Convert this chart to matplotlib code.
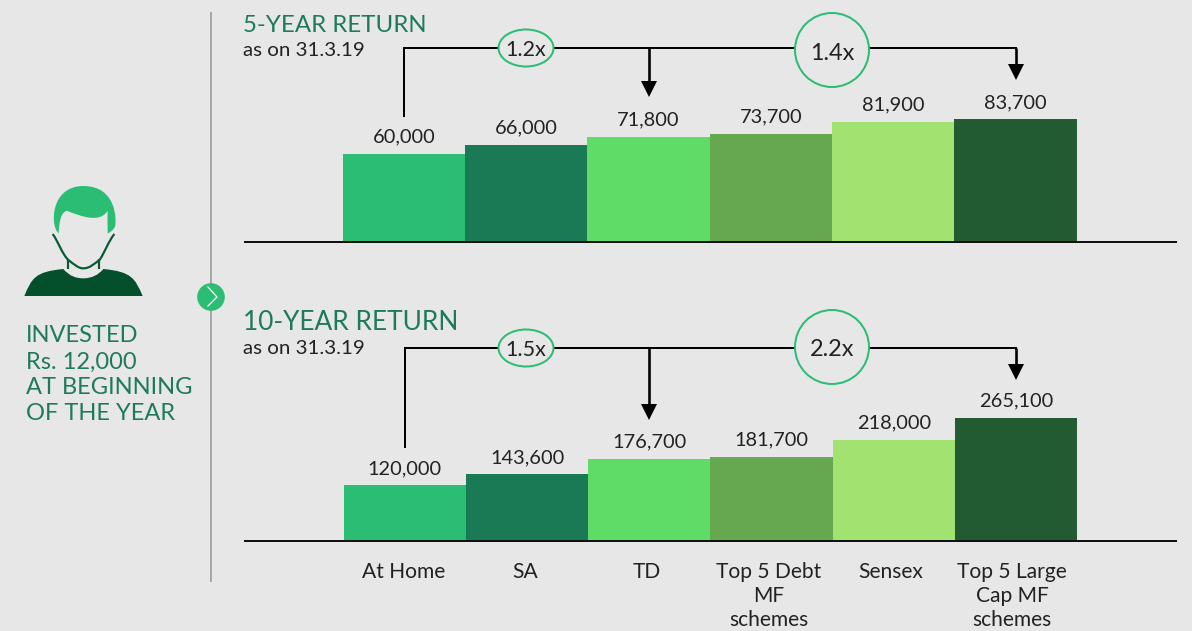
import matplotlib
matplotlib.use("Agg")
import matplotlib.pyplot as plt
from matplotlib.path import Path
from matplotlib.patches import PathPatch, Ellipse, Circle

plt.rcParams['font.family'] = ['Lato', 'DejaVu Sans']

categories = ["At Home", "SA", "TD", "Top 5 Debt\nMF\nschemes", "Sensex", "Top 5 Large\nCap MF\nschemes"]
values_5y = [60000, 66000, 71800, 73700, 81900, 83700]
values_10y = [120000, 143600, 176700, 181700, 218000, 265100]
bar_colors = ["#2bbd73", "#1a7a56", "#5fdc68", "#65a84f", "#a2e270", "#225a32"]
BG = "#e7e7e7"
TITLE = "#1f7a5c"
INK = "#222222"
W, H = 1192, 631
STEP = 122.3


def px(v):
    return v * 0.72


fig = plt.figure(figsize=(W / 100, H / 100), dpi=100, facecolor=BG)


def panel(values, center0, base_y, y_scale):
    left, right = 245, 1176
    ax = fig.add_axes([left / W, 1 - base_y / H, (right - left) / W, base_y / H])
    ax.set_facecolor("none")
    ax.set_xlim((left - center0) / STEP, (right - center0) / STEP)
    ax.set_ylim(0, base_y / y_scale)
    bars = ax.bar(range(len(values)), values, width=1.0, color=bar_colors, linewidth=0)
    ax.bar_label(bars, labels=[f"{v:,}" for v in values], padding=6,
                 fontsize=px(20), color=INK)
    for s in ("top", "left", "right"):
        ax.spines[s].set_visible(False)
    ax.spines["bottom"].set_linewidth(px(2))
    ax.spines["bottom"].set_color("#111111")
    ax.set_yticks([])
    ax.set_xticks([])
    return ax


ax_top = panel(values_5y, 404.0, 242, 88 / 60000)
ax_bot = panel(values_10y, 404.7, 541, 0.000464)

ov = fig.add_axes([0, 0, 1, 1], zorder=5)
ov.set_xlim(0, W)
ov.set_ylim(H, 0)
ov.axis("off")
ov.patch.set_alpha(0)

# category labels sit slightly left of the lower bar centres in the reference
for x, label in zip((404, 525, 647, 769, 891, 1012), categories):
    ov.text(x, 562, label, fontsize=px(21), color=INK, ha="center", va="top",
            linespacing=1.26, clip_on=False)

# divider + badge
ov.plot([211, 211], [12, 582], color="#a8a8a8", lw=px(2), solid_capstyle="butt")
ov.add_patch(Circle((211, 297), 13.8, fc="#2bbd73", ec="none", zorder=3))
ov.plot([208, 217, 208], [287, 297, 306], color="white", lw=px(1.3), zorder=4)


def zp(x, y):
    return (x / 3, 170 + y / 3)


def bez(start, segs, color, close=True):
    verts, codes = [zp(*start)], [Path.MOVETO]
    for s in segs:
        if len(s) == 2:
            verts.append(zp(*s)); codes.append(Path.LINETO)
        else:
            verts += [zp(s[0], s[1]), zp(s[2], s[3]), zp(s[4], s[5])]
            codes += [Path.CURVE4] * 3
    if close:
        verts.append(zp(*start)); codes.append(Path.CLOSEPOLY)
        ov.add_patch(PathPatch(Path(verts, codes), fc=color, ec="none"))
    else:
        ov.add_patch(PathPatch(Path(verts, codes), fc="none", ec=color, lw=px(2.2)))


# person icon
bez((176, 190), [(150, 170, 150, 48, 250, 48), (350, 48, 350, 150, 345, 170), (340, 180, 330, 188, 323, 190),
                 (322, 160, 323, 140, 323, 122), (300, 160, 245, 140, 200, 122), (180, 130, 178, 160, 176, 190)],
    "#2bbd73")
bez((158, 192), [(175, 215, 185, 250, 205, 270), (225, 285, 235, 295, 250, 295),
                 (270, 295, 285, 280, 300, 268), (315, 245, 325, 215, 343, 192)], "#0a5a34", close=False)
bez((203, 268), [(203, 297)], "#0a5a34", close=False)
bez((298, 268), [(298, 297)], "#0a5a34", close=False)
bez((73, 378), [(95, 325, 105, 305, 190, 297), (210, 320, 230, 325, 250, 325), (275, 325, 295, 315, 310, 297),
                (395, 305, 405, 325, 428, 378)], "#04502c")

# side text
for y, t in zip((336, 362, 388, 414), ("INVESTED", "Rs. 12,000", "AT BEGINNING", "OF THE YEAR")):
    ov.text(26, y, t, fontsize=px(23.6), color=TITLE, va="center", ha="left")


def arrow(x, y0, y1):
    ov.plot([x, x], [y0, y1 - 14], color="black", lw=px(2.6), solid_capstyle="butt", zorder=2)
    ov.fill([x - 8, x + 8, x], [y1 - 16, y1 - 16, y1], color="black", lw=0, zorder=2)


def bracket(ytitle, ysub, yline, xstart, ystop, stop_td, stop_lc, e_y, c_y, e_txt, c_txt, title, tsize):
    ov.text(243, ytitle, title, fontsize=px(tsize), color=TITLE, va="center", ha="left")
    ov.text(243, ysub, "as on 31.3.19", fontsize=px(20.5), color=INK, va="center", ha="left")
    ov.plot([xstart, xstart, 1016, 1016], [ystop, yline, yline, yline + 1],
            color="black", lw=px(2), zorder=1, solid_joinstyle="miter")
    arrow(649, yline, stop_td)
    arrow(1016, yline, stop_lc)
    ov.add_patch(Ellipse((526, e_y), 55, 37, fc=BG, ec="#2bbd73", lw=px(2), zorder=3))
    ov.text(526, e_y + 2.5, e_txt, fontsize=px(21.5), color=INK, ha="center", va="center", zorder=4)
    ov.add_patch(Circle((832, c_y), 37, fc=BG, ec="#2bbd73", lw=px(2), zorder=3))
    ov.text(832, c_y + 3, c_txt, fontsize=px(23.5), color=INK, ha="center", va="center", zorder=4)


bracket(26, 51, 48, 404, 116, 97, 80, 48, 50, "1.2x", "1.4x", "5-YEAR RETURN", 24)
bracket(323, 348, 348, 405, 447, 420, 380, 348, 347, "1.5x", "2.2x", "10-YEAR RETURN", 26.3)

fig.savefig("out.png", dpi=100, facecolor=BG)
